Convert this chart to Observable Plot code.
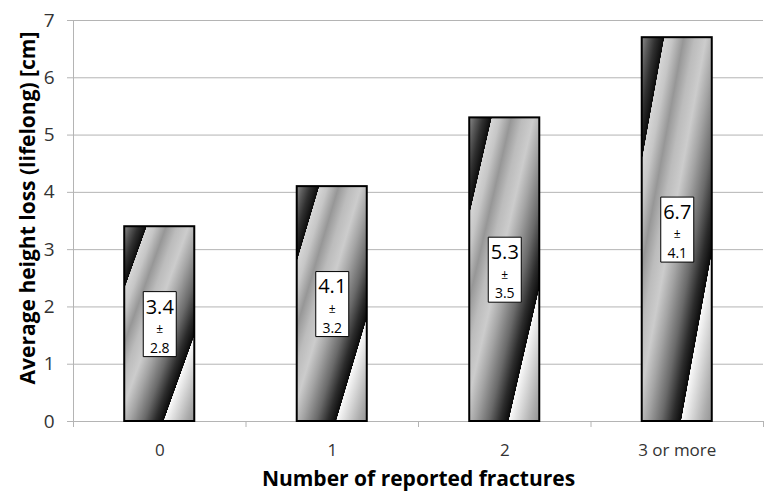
<!DOCTYPE html>
<html>
<head>
<meta charset="utf-8">
<script src="https://cdn.jsdelivr.net/npm/d3@7"></script>
<script src="https://cdn.jsdelivr.net/npm/@observablehq/plot@0.6"></script>
<style>
  html, body { margin: 0; padding: 0; background: white; }
</style>
</head>
<body>
<div id="chart"></div>
<script>
const categories = ["0", "1", "2", "3 or more"];
const means = [3.4, 4.1, 5.3, 6.7];
const sds = [2.8, 3.2, 3.5, 4.1];
const yTicks = [0, 1, 2, 3, 4, 5, 6, 7];
const xTitle = "Number of reported fractures";
const yTitle = "Average height loss (lifelong) [cm]";

const data = categories.map((c, i) => ({ i, cat: c, mean: means[i], sd: sds[i] }));
const boundaries = d3.range(categories.length + 1).map(k => k - 0.5);

const boxSymbol = {
  draw(context) {
    context.moveTo(-16.5, -32.5);
    context.lineTo(16.5, -32.5);
    context.lineTo(16.5, 32.5);
    context.lineTo(-16.5, 32.5);
    context.closePath();
  }
};

const gridColor = "#b4b4b4";
const halfBar = 0.203;

const chart = Plot.plot({
  width: 766,
  height: 492,
  marginLeft: 73,
  marginRight: 3,
  marginTop: 20,
  marginBottom: 71,
  style: { fontFamily: "'Open Sans', sans-serif", background: "white" },
  x: { type: "linear", domain: [-0.5, categories.length - 0.5] },
  y: { domain: [0, 7] },
  marks: [
    Plot.gridY(yTicks, { stroke: gridColor, strokeOpacity: 1 }),
    Plot.axisY(yTicks, { tickSize: 6, tickPadding: 13, tickFormat: d => String(d), stroke: gridColor, fill: "#333", fontSize: 19, label: null }),
    Plot.ruleX([-0.5], { stroke: gridColor }),
    Plot.ruleY([0], { stroke: gridColor }),
    Plot.axisX(boundaries, { tickSize: 6, tickFormat: () => "", stroke: gridColor, label: null }),
    Plot.axisX(data.map(d => d.i), { tickSize: 0, tickPadding: 22, tickFormat: i => categories[i], fill: "#333", fontSize: 17, label: null }),
    Plot.rectY(data, { x1: d => d.i - halfBar, x2: d => d.i + halfBar, y: "mean", fill: "url(#stripes)", stroke: "black", strokeWidth: 2 }),
    Plot.dot(data, { x: "i", y: d => d.mean / 2, symbol: boxSymbol, r: 1, fill: "white", stroke: "black", strokeWidth: 1 }),
    Plot.text(data, { x: "i", y: d => d.mean / 2, text: d => d.mean.toFixed(1), fontSize: 20, dy: -17, fill: "black" }),
    Plot.text(data, { x: "i", y: d => d.mean / 2, text: () => "±", fontSize: 12, dy: 5, fill: "black" }),
    Plot.text(data, { x: "i", y: d => d.mean / 2, text: d => d.sd.toFixed(1), fontSize: 14, dy: 24, fill: "black" }),
    Plot.text([xTitle], { frameAnchor: "bottom", lineAnchor: "middle", dy: 58, fontSize: 21, fontWeight: "bold", fill: "black" }),
    Plot.text([yTitle], { frameAnchor: "left", textAnchor: "middle", lineAnchor: "middle", rotate: -90, dx: -45, dy: -13, fontSize: 21, fontWeight: "bold", fill: "black" })
  ]
});

const stops = [
  [0.00, "#8a8a8a"], [0.05, "#5a5a5a"], [0.10, "#303030"], [0.16, "#0c0c0c"],
  [0.162, "#d6d6d6"], [0.22, "#c6c6c6"], [0.30, "#979797"], [0.38, "#bcbcbc"],
  [0.46, "#cccccc"], [0.54, "#a4a4a4"], [0.64, "#6a6a6a"], [0.72, "#2c2c2c"],
  [0.78, "#0a0a0a"], [0.782, "#fafafa"], [0.86, "#d4d4d4"], [0.94, "#acacac"],
  [1.00, "#939393"]
];
const defs = d3.select(chart).insert("defs", ":first-child");
const grad = defs.append("linearGradient")
  .attr("id", "stripes")
  .attr("gradientUnits", "objectBoundingBox")
  .attr("x1", 0).attr("y1", 0).attr("x2", 1).attr("y2", 1);
grad.selectAll("stop").data(stops).join("stop")
  .attr("offset", d => d[0])
  .attr("stop-color", d => d[1]);

document.getElementById("chart").appendChild(chart);
</script>
</body>
</html>
